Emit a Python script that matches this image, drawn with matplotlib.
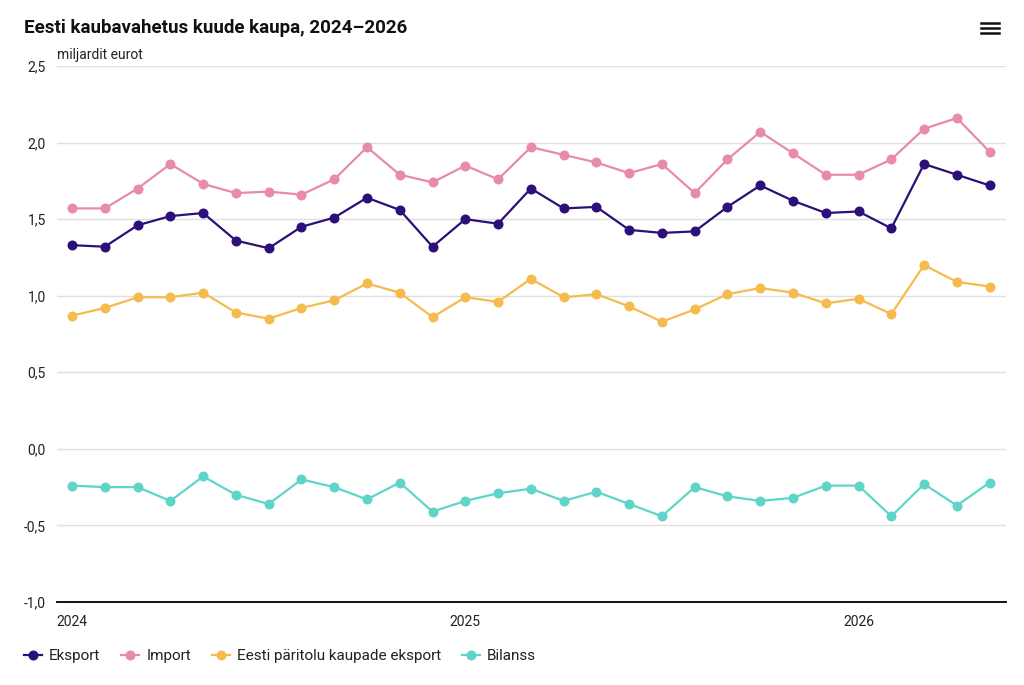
import numpy as np
import matplotlib
matplotlib.use("Agg")
import matplotlib.pyplot as plt
from matplotlib.lines import Line2D

plt.rcParams['font.family'] = ['Roboto', 'DejaVu Sans']

# kuud jaan 2024 .. mai 2026
months = list(range(29))
year_ticks = [0, 12, 24]
year_labels = ["2024", "2025", "2026"]

eksport = [1.33, 1.32, 1.46, 1.52, 1.54, 1.36, 1.31, 1.45, 1.51, 1.64, 1.56, 1.32,
           1.50, 1.47, 1.70, 1.57, 1.58, 1.43, 1.41, 1.42, 1.58, 1.72, 1.62, 1.54,
           1.55, 1.44, 1.86, 1.79, 1.72]
import_ = [1.57, 1.57, 1.70, 1.86, 1.73, 1.67, 1.68, 1.66, 1.76, 1.97, 1.79, 1.74,
           1.85, 1.76, 1.97, 1.92, 1.87, 1.80, 1.86, 1.67, 1.89, 2.07, 1.93, 1.79,
           1.79, 1.89, 2.09, 2.16, 1.94]
eesti_paritolu = [0.87, 0.92, 0.99, 0.99, 1.02, 0.89, 0.85, 0.92, 0.97, 1.08, 1.02, 0.86,
                  0.99, 0.96, 1.11, 0.99, 1.01, 0.93, 0.83, 0.91, 1.01, 1.05, 1.02, 0.95,
                  0.98, 0.88, 1.20, 1.09, 1.06]
bilanss = [-0.24, -0.25, -0.25, -0.34, -0.18, -0.30, -0.36, -0.20, -0.25, -0.33, -0.22, -0.41,
           -0.34, -0.29, -0.26, -0.34, -0.28, -0.36, -0.44, -0.25, -0.31, -0.34, -0.32, -0.24,
           -0.24, -0.44, -0.23, -0.37, -0.22]

series = [
    ("Eksport", eksport, "#2c0f78"),
    ("Import", import_, "#e78ba8"),
    ("Eesti päritolu kaupade eksport", eesti_paritolu, "#f5bb4f"),
    ("Bilanss", bilanss, "#5fd5c9"),
]

W, H = 1024, 685
fig = plt.figure(figsize=(W / 100, H / 100), dpi=100)
ax = fig.add_axes([57 / W, (H - 602) / H, (1006 - 57) / W, (602 - 66) / H])

for name, vals, col in series:
    ax.plot(months, vals, color=col, lw=1.6, marker="o", ms=7.2,
            markeredgewidth=0, label=name, zorder=3)

ax.set_xlim(-0.46, 28.5)
ax.set_ylim(-1.0, 2.5)
yt = np.arange(-1.0, 2.51, 0.5)
ax.set_yticks(yt)
ax.set_yticklabels([f"{v:.1f}".replace(".", ",") for v in yt])
ax.set_xticks(year_ticks)
ax.set_xticklabels(year_labels)
ax.grid(axis="y", color="#e0e0e0", lw=1)
ax.set_axisbelow(True)
for s in ["top", "right", "left"]:
    ax.spines[s].set_visible(False)
ax.spines["bottom"].set_color("#111111")
ax.spines["bottom"].set_linewidth(1.4)
ax.tick_params(axis="y", length=0, pad=8, labelsize=10, labelcolor="#222222")
ax.tick_params(axis="x", length=0, pad=9, labelsize=10, labelcolor="#222222")

fig.text(24 / W, 1 - 28 / H, "Eesti kaubavahetus kuude kaupa, 2024–2026",
         fontsize=13.5, fontweight="bold", va="center", ha="left", color="#111111")
fig.text(57 / W, 1 - 55 / H, "miljardit eurot", fontsize=10,
         va="center", ha="left", color="#222222")

# menüü ikoon
for dy in (-5, 0, 5):
    fig.add_artist(Line2D([981 / W, 999 / W], [1 - (28 + dy) / H] * 2,
                          color="#111111", lw=1.8))

handles = [Line2D([], [], color=c, lw=1.6, marker="o", ms=7.2, markeredgewidth=0)
           for _, _, c in series]
fig.legend(handles, [n for n, _, _ in series], loc="center left",
           bbox_to_anchor=(10 / W, 1 - 656 / H), ncol=4, frameon=False,
           fontsize=11, handlelength=1.2, handletextpad=0.45, columnspacing=1.35,
           labelcolor="#222222")

fig.savefig("out.png", dpi=100, facecolor="white")
